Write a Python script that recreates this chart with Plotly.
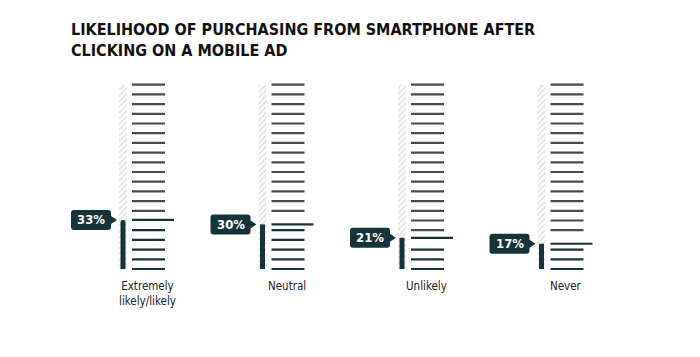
import plotly.graph_objects as go

# ---- data ----
categories = ["Extremely<br>likely/likely", "Neutral", "Unlikely", "Never"]
values = [33, 30, 21, 17]
value_labels = ["33%", "30%", "21%", "17%"]
title_text = "LIKELIHOOD OF PURCHASING FROM SMARTPHONE AFTER<br>CLICKING ON A MOBILE AD"

# ---- styling / geometry ----
W, H = 700, 357
PX_X = 139.5          # pixels per category step
PX_Y = 1.486          # pixels per percentage point
X0_PX = 123           # pixel x of first bar
BASE_PX = 269         # pixel y of zero
N_TICKS = 20
TICK_STEP = 9.7 / PX_Y  # ruler step in % units
DARK = "#17333a"
GREY = "#4a4a4a"
FONT = "DejaVu Sans Condensed, Liberation Sans, Arial"

x_min = -X0_PX / PX_X
x_max = x_min + W / PX_X
y_min = -(H - BASE_PX) / PX_Y
y_max = BASE_PX / PX_Y

xs = list(range(len(categories)))

def dx(px):
    return px / PX_X

def dy(px):
    return px / PX_Y

fig = go.Figure()

ruler_top = (N_TICKS - 1) * TICK_STEP

# hatched background strip
fig.add_trace(go.Bar(
    x=xs, y=[ruler_top] * len(xs), width=dx(8),
    marker=dict(color="white", line=dict(width=0),
                pattern=dict(shape="/", fgcolor="#c4c4c4", bgcolor="white", size=4, solidity=0.45)),
    hoverinfo="skip", showlegend=False))

# value bars
fig.add_trace(go.Bar(
    x=xs, y=values, width=dx(5),
    marker=dict(color=DARK, line=dict(width=0), cornerradius=3),
    hoverinfo="skip", showlegend=False))

# ruler ticks
for i, v in zip(xs, values):
    hi = round(v / TICK_STEP)
    gx, gy, dxl, dyl = [], [], [], []
    for k in range(N_TICKS):
        y = k * TICK_STEP
        if k == hi:
            fig.add_trace(go.Scatter(x=[i + dx(9), i + dx(51)], y=[v, v], mode="lines",
                                     line=dict(color=DARK, width=2.2), hoverinfo="skip", showlegend=False))
            continue
        tgt_x, tgt_y = (dxl, dyl) if k < hi else (gx, gy)
        tgt_x += [i + dx(9), i + dx(42), None]
        tgt_y += [y, y, None]
    fig.add_trace(go.Scatter(x=gx, y=gy, mode="lines", line=dict(color=GREY, width=2.2),
                             hoverinfo="skip", showlegend=False))
    fig.add_trace(go.Scatter(x=dxl, y=dyl, mode="lines", line=dict(color=DARK, width=2.2),
                             hoverinfo="skip", showlegend=False))

    # label callout box
    L, R, T, B, r = -52, -12, 10, -10, 3
    def P(a, b):
        return f"{i + dx(a):.5f},{v + dy(b):.5f}"
    path = (f"M{P(L + r, T)} L{P(R - r, T)} Q{P(R, T)} {P(R, T - r)} L{P(R, 4)} L{P(-6, 0)} "
            f"L{P(R, -4)} L{P(R, B + r)} Q{P(R, B)} {P(R - r, B)} L{P(L + r, B)} Q{P(L, B)} {P(L, B + r)} "
            f"L{P(L, T - r)} Q{P(L, T)} {P(L + r, T)} Z")
    fig.add_shape(type="path", path=path, xref="x", yref="y", fillcolor=DARK, line=dict(width=0))

for i, v, lab, cat in zip(xs, values, value_labels, categories):
    fig.add_annotation(x=i + dx(-32), y=v, text=f"<b>{lab}</b>", showarrow=False,
                       font=dict(family=FONT, size=13, color="white"), xanchor="center", yanchor="middle")
    fig.add_annotation(x=i + dx(24.5), y=dy(-8), text=cat, showarrow=False,
                       font=dict(family=FONT, size=11.5, color="#222222"), xanchor="center", yanchor="top",
                       align="center")

fig.add_annotation(xref="paper", yref="paper", x=69 / W, y=1 - 18 / H, text=f"<b>{title_text}</b>",
                   showarrow=False, xanchor="left", yanchor="top", align="left",
                   font=dict(family=FONT, size=16, color="#111111"))

fig.update_layout(
    width=W, height=H, margin=dict(l=0, r=0, t=0, b=0),
    paper_bgcolor="white", plot_bgcolor="white", barmode="overlay",
    xaxis=dict(range=[x_min, x_max], visible=False, fixedrange=True),
    yaxis=dict(range=[y_min, y_max], visible=False, fixedrange=True),
    showlegend=False,
)

fig.write_html("out.html")
